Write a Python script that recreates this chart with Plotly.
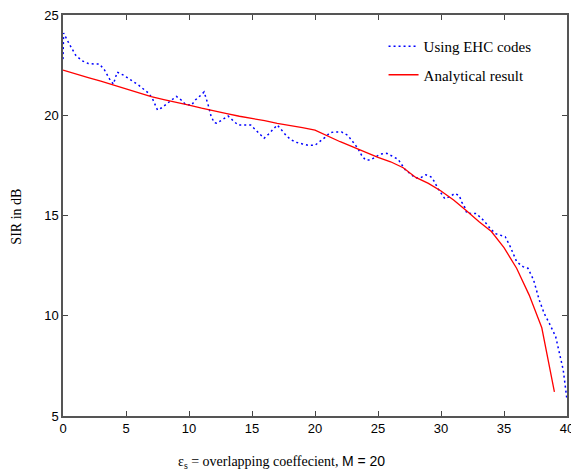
import plotly.graph_objects as go

# EHC codes (simulation) series
ehc_x = [0, 0.05, 0.5, 1.0, 1.5, 2.0, 2.5, 2.9, 3.3, 3.7, 4.0, 4.3, 4.8, 5.2, 5.6, 6.0,
         6.4, 6.8, 7.1, 7.5, 7.8, 8.2, 8.6, 9.0, 9.4, 9.7, 10.2, 10.5, 10.9, 11.2, 11.5,
         11.75, 12.0, 12.2, 12.7, 13.1, 13.5, 13.9, 14.9, 15.25, 15.6, 15.96, 16.3, 16.6,
         17.0, 17.35, 17.7, 18.05, 18.5, 19.0, 19.45, 20.0, 20.4, 20.8, 21.2, 21.55, 22.1,
         22.6, 23.0, 23.4, 23.7, 24.0, 24.4, 24.8, 25.2, 25.7, 26.1, 26.6, 26.9, 27.2, 27.6,
         27.95, 28.4, 28.8, 29.2, 29.5, 29.7, 30.0, 30.3, 30.7, 31.1, 31.45, 31.65, 31.9,
         32.05, 32.8, 33.4, 33.9, 34.3, 35.1, 35.5, 36.0, 36.5, 36.9, 37.35, 37.8, 38.2,
         38.6, 39.1, 39.4, 39.7, 40.0]
ehc_y = [22.8, 24.1, 23.55, 23.0, 22.72, 22.58, 22.55, 22.55, 22.25, 21.8, 21.55, 22.15,
         22.0, 21.85, 21.67, 21.5, 21.3, 21.1, 20.83, 20.26, 20.36, 20.56, 20.76, 20.94,
         20.75, 20.55, 20.5, 20.76, 20.98, 21.16, 20.56, 19.96, 19.63, 19.6, 19.8, 19.96,
         19.73, 19.51, 19.51, 19.3, 19.1, 18.85, 19.05, 19.26, 19.51, 19.26, 19.0, 18.8,
         18.65, 18.57, 18.5, 18.5, 18.68, 18.9, 19.13, 19.17, 19.17, 19.0, 18.68, 18.35,
         18.0, 17.77, 17.77, 17.93, 18.07, 18.1, 17.97, 17.8, 17.52, 17.25, 17.07, 16.87,
         16.89, 17.03, 16.93, 16.67, 16.4, 16.14, 15.84, 15.94, 16.1, 15.99, 15.67, 15.39,
         15.11, 15.1, 14.74, 14.36, 14.1, 13.94, 13.44, 12.7, 12.45, 12.37, 11.78, 10.78,
         10.1, 9.62, 8.96, 8.13, 7.3, 5.8]

# Analytical result series
ana_x = list(range(0, 40))
ana_y = [22.25, 22.08, 21.88, 21.7, 21.5, 21.33, 21.12, 20.93, 20.78, 20.65, 20.5,
         20.35, 20.2, 20.08, 19.95, 19.85, 19.73, 19.6, 19.5, 19.38, 19.26, 18.95, 18.68,
         18.42, 18.15, 17.9, 17.68, 17.38, 16.9, 16.6, 16.22, 15.77, 15.25, 14.7, 14.2,
         13.4, 12.37, 11.03, 9.4, 6.2]

x_ticks = [0, 5, 10, 15, 20, 25, 30, 35, 40]
y_ticks = [5, 10, 15, 20, 25]

W, H = 574, 473
L, T, B, R = 63, 15, 57, 0
PW, PH = W - L - R, H - T - B

fig = go.Figure()
fig.add_trace(go.Scatter(
    x=ehc_x, y=ehc_y, mode="lines", name="Using EHC codes", legendgroup="a",
    line=dict(color="#0000ff", width=1.5, dash="2px,3px"),
))
fig.add_trace(go.Scatter(
    x=ana_x, y=ana_y, mode="lines", name="Analytical result", legendgroup="b",
    line=dict(color="#ff0000", width=1.3),
))

axis_common = dict(
    showline=True, linecolor="#555", linewidth=1.5, mirror="ticks",
    ticks="inside", ticklen=5, tickcolor="#444", tickwidth=1,
    showgrid=False, zeroline=False, ticklabeloverflow="allow",
    tickfont=dict(family="Liberation Sans, Arial", size=13, color="black"),
)

fig.update_layout(
    autosize=False,
    width=W, height=H,
    margin=dict(l=L, r=R, t=T, b=B, pad=0),
    paper_bgcolor="white", plot_bgcolor="white",
    xaxis=dict(range=[0, 40], tickvals=x_ticks, **axis_common),
    yaxis=dict(range=[5, 25], tickvals=y_ticks, **axis_common),
    showlegend=True,
    legend=dict(
        x=(388 - L) / PW, y=1 - (30 - T) / PH, xanchor="left", yanchor="top",
        bgcolor="rgba(0,0,0,0)", borderwidth=0,
        font=dict(family="Liberation Serif, Times New Roman", size=15, color="black"),
        tracegroupgap=6,
    ),
    annotations=[
        dict(
            text="ε<sub>s</sub> = overlapping coeffecient, <span style=\"font-family:Arial\">M = 20</span>",
            xref="paper", yref="paper", x=(285 - L) / PW, y=-(462 - 416) / PH,
            xanchor="center", yanchor="middle", showarrow=False,
            font=dict(family="Liberation Serif, Times New Roman", size=14, color="black"),
        ),
        dict(
            text="SIR in dB",
            xref="paper", yref="paper", x=-(L - 15) / PW, y=1 - (217 - T) / PH,
            xanchor="center", yanchor="middle", showarrow=False, textangle=-90,
            font=dict(family="Liberation Serif, Times New Roman", size=14, color="black"),
        ),
    ],
)

fig.write_html(
    "out.html",
    config={"displayModeBar": False, "responsive": False},
    post_script="document.body.style.margin='0px';document.body.style.overflow='hidden';",
)
